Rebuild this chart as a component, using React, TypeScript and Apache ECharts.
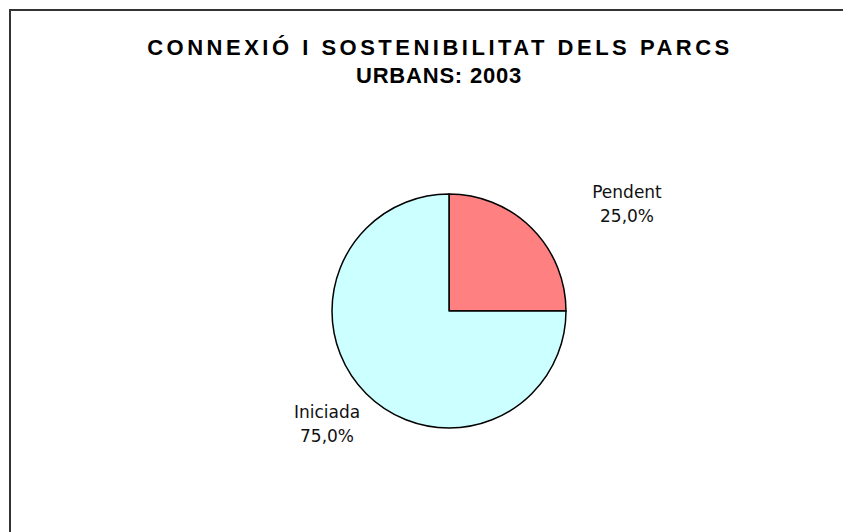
import React, { useEffect, useRef } from "react";
import * as echarts from "echarts";

const titleLines = ["CONNEXIÓ I SOSTENIBILITAT DELS PARCS", "URBANS: 2003"];
const categories = ["Pendent", "Iniciada"];
const values = [25, 75];
const colors = ["#FF8080", "#CCFFFF"];
const labelPos = [
  [627, 204],
  [327, 424],
];

export default function App() {
  const ref = useRef<HTMLDivElement>(null);
  useEffect(() => {
    document.body.style.margin = "0";
    const chart = echarts.init(ref.current!, null, { renderer: "svg" });
    const titleStyle = {
      fontWeight: "bold",
      fontSize: 22,
      lineHeight: 28,
      color: "#000000",
    };
    chart.setOption({
      animation: false,
      backgroundColor: "#FFFFFF",
      title: [
        {
          text: titleLines[0],
          left: 435,
          top: 28,
          textAlign: "center",
          textStyle: { ...titleStyle, fontFamily: "'Liberation Sans', sans-serif" },
        },
        {
          text: titleLines[1],
          left: 434,
          top: 56,
          textAlign: "center",
          textStyle: { ...titleStyle, fontFamily: "Arial, 'Liberation Sans', sans-serif" },
        },
      ],
      graphic: [
        {
          type: "rect",
          shape: { x: 10, y: 10, width: 900, height: 600 },
          style: { fill: "none", stroke: "#333333", lineWidth: 2 },
          silent: true,
        },
      ],
      series: [
        {
          type: "pie",
          center: [449, 311],
          radius: 117,
          startAngle: 90,
          clockwise: true,
          data: categories.map((c, i) => ({
            name: c,
            value: values[i],
            itemStyle: { color: colors[i] },
          })),
          itemStyle: { borderColor: "#000000", borderWidth: 1.5 },
          label: {
            show: true,
            position: "outside",
            formatter: (p: any) => `${p.name}\n${p.value.toFixed(1).replace(".", ",")}%`,
            fontFamily: "DejaVu Sans, Verdana, sans-serif",
            fontSize: 17,
            lineHeight: 24,
            color: "#111111",
            align: "center",
          },
          labelLine: { show: false },
          labelLayout: (params: any) => ({
            x: labelPos[params.dataIndex][0],
            y: labelPos[params.dataIndex][1],
            align: "center",
            verticalAlign: "middle",
          }),
          emphasis: { disabled: true },
        },
      ],
    });
    return () => chart.dispose();
  }, []);
  return (
    <>
      <style>{`#chartbox text[style*="Liberation"] { letter-spacing: 3.5px; }
#chartbox text[style*="Arial"] { letter-spacing: 0.8px; }`}</style>
      <div id="chartbox" ref={ref} style={{ width: 843, height: 532 }} />
    </>
  );
}
